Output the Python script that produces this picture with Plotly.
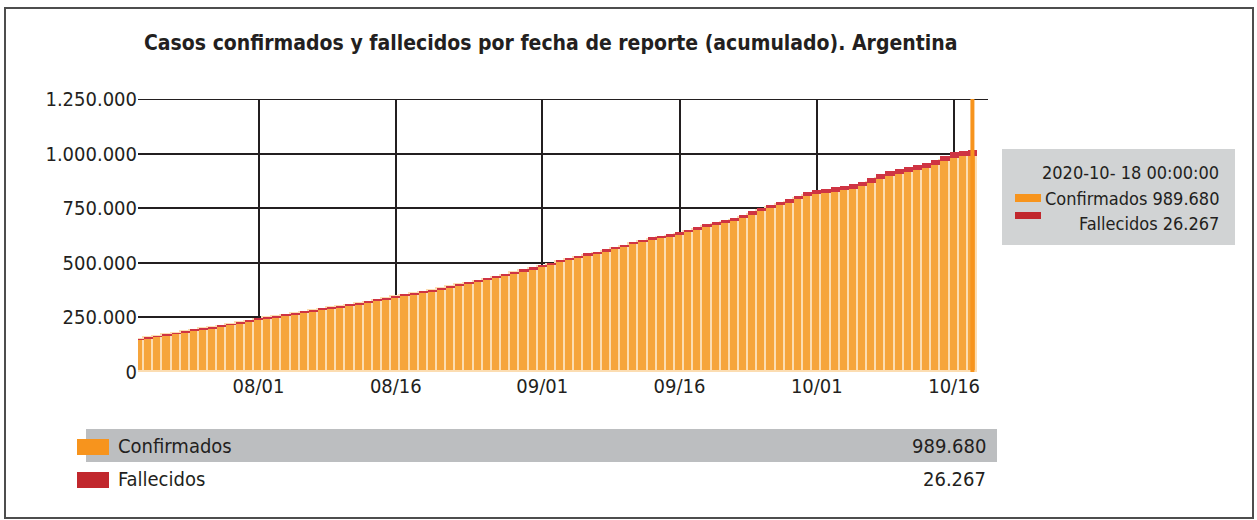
import pandas as pd
import plotly.graph_objects as go

# ---------------- data ----------------
dates = pd.date_range("2020-07-19", "2020-10-18", freq="D")

confirmados = [
    148700, 155100, 161500, 168400, 175800, 182700, 189600, 195600, 200900, 207800, 215200, 222600, 231000,
    239400, 245900, 251200, 257500, 264400, 271300, 278600, 285500, 291400, 296700, 303600, 310500, 317800,
    325600, 334000, 342400, 349300, 355000, 362700, 370500, 379300, 388200, 397000, 403800, 412600, 421400,
    431200, 441000, 451700, 461600, 470500,
    481300, 491100, 501900, 512600, 523400, 533300, 541100, 550900, 561600, 572300, 584100, 594900, 604700,
    612600, 620300, 629200, 639900, 651600, 663300, 673200, 682000, 692500, 706100, 720600, 735200, 748800,
    762500, 773900, 791500, 805100,
    813700, 819400, 825000, 831500, 838200, 849800, 864300, 882800, 896400, 906100, 913800, 923400, 934100,
    945700, 964300, 982100, 987900, 989680,
]

fallecidos = [
    2260, 2373, 2490, 2588, 2702, 2807, 2893, 2939, 3059, 3179, 3288, 3407, 3543,
    3596, 3648, 3813, 3979, 4106, 4251, 4411, 4523, 4606, 4764, 4873, 5004, 5213, 5362, 5527, 5637, 5703,
    6048, 6330, 6517, 6730, 6848, 7054, 7173, 7366, 7563, 7839, 8050, 8271, 8353, 8457,
    8660, 8919, 9118, 9361, 9623, 9739, 9859, 10129, 10405, 10658, 10907, 11148, 11263, 11412, 11667, 11852,
    12116, 12449, 12656, 12799, 13052, 13482, 13952, 14376, 14766, 15208, 15543, 16113, 16519, 16937,
    20288, 20599, 21018, 21468, 21827, 22226, 22710, 23225, 23581, 23868, 24186, 24572, 24921, 25342, 25723,
    25900, 26107, 26267,
]

x_tick_dates = ["2020-08-01", "2020-08-16", "2020-09-01", "2020-09-16", "2020-10-01", "2020-10-16"]
x_tick_labels = ["08/01", "08/16", "09/01", "09/16", "10/01", "10/16"]
y_tick_vals = [0, 250000, 500000, 750000, 1000000, 1250000]

title_text = "Casos confirmados y fallecidos por fecha de reporte (acumulado). Argentina"
series_names = ["Confirmados", "Fallecidos"]

# ---------------- styling ----------------
FONT = "DejaVu Sans Condensed, Liberation Sans Narrow, Arial Narrow, sans-serif"
TXT = "#231F20"
ORANGE = "#F7941D"
BAR_ORANGE = "#F6A53C"
RED = "#C1272D"
BAR_RED = "#CF3443"


def fmt(v):
    return f"{v:,}".replace(",", ".")


W, H = 1257, 520
L, R, T, B = 138, 280, 99, 148
PW, PH = W - L - R, H - T - B


def px(x):
    return (x - L) / PW


def py(y):
    return (T + PH - y) / PH


fig = go.Figure()
fig.add_trace(go.Bar(
    x=dates, y=confirmados, name=series_names[0],
    marker=dict(color=BAR_ORANGE, line=dict(color="#FCDDB2", width=1.6)),
))
fig.add_trace(go.Bar(
    x=dates, y=fallecidos, name=series_names[1],
    marker=dict(color=BAR_RED, line=dict(width=0)),
))

shapes = [
    # top gridline, extending slightly past the plot area
    dict(type="line", xref="paper", yref="y", x0=0, x1=px(988), y0=y_tick_vals[-1], y1=y_tick_vals[-1],
         line=dict(color=TXT, width=2), layer="below"),
    # hover spike on last date
    dict(type="line", xref="x", yref="y", x0=dates[-1], x1=dates[-1], y0=0, y1=y_tick_vals[-1],
         line=dict(color=ORANGE, width=4), layer="above"),
    # outer frame
    dict(type="rect", xref="paper", yref="paper", x0=px(5), x1=px(1253), y0=py(518), y1=py(8),
         line=dict(color="#4D4D4D", width=2), fillcolor="rgba(0,0,0,0)"),
    # bottom legend band
    dict(type="rect", xref="paper", yref="paper", x0=px(86), x1=px(997), y0=py(462), y1=py(429),
         line=dict(width=0), fillcolor="#BCBEC0", layer="below"),
    dict(type="rect", xref="paper", yref="paper", x0=px(77), x1=px(109), y0=py(455), y1=py(439),
         line=dict(width=0), fillcolor=ORANGE),
    dict(type="rect", xref="paper", yref="paper", x0=px(77), x1=px(109), y0=py(488), y1=py(472),
         line=dict(width=0), fillcolor=RED),
    # hover box
    dict(type="rect", xref="paper", yref="paper", x0=px(1002), x1=px(1235), y0=py(245), y1=py(149),
         line=dict(width=0), fillcolor="#D1D3D4"),
    dict(type="rect", xref="paper", yref="paper", x0=px(1015), x1=px(1041), y0=py(202), y1=py(194),
         line=dict(width=0), fillcolor=ORANGE),
    dict(type="rect", xref="paper", yref="paper", x0=px(1015), x1=px(1041), y0=py(219), y1=py(212),
         line=dict(width=0), fillcolor=RED),
]

last_date = dates[-1]
hover_date = f"{last_date:%Y-%m-} {last_date:%d %H:%M:%S}"

annotations = [
    dict(text=f"<b>{title_text}</b>", x=px(550), y=py(43), xanchor="center", yanchor="middle",
         font=dict(size=21, color=TXT)),
    dict(text=series_names[0], x=px(116), y=py(446), xanchor="left", yanchor="middle",
         font=dict(size=20, color=TXT)),
    dict(text=fmt(confirmados[-1]), x=px(988), y=py(446), xanchor="right", yanchor="middle",
         font=dict(size=20, color=TXT)),
    dict(text=series_names[1], x=px(116), y=py(479), xanchor="left", yanchor="middle",
         font=dict(size=20, color=TXT)),
    dict(text=fmt(fallecidos[-1]), x=px(988), y=py(479), xanchor="right", yanchor="middle",
         font=dict(size=20, color=TXT)),
    dict(text=hover_date, x=px(1221), y=py(172), xanchor="right", yanchor="middle",
         font=dict(size=18, color=TXT)),
    dict(text=f"{series_names[0]} {fmt(confirmados[-1])}", x=px(1221), y=py(198), xanchor="right",
         yanchor="middle", font=dict(size=18, color=TXT)),
    dict(text=f"{series_names[1]} {fmt(fallecidos[-1])}", x=px(1221), y=py(223), xanchor="right",
         yanchor="middle", font=dict(size=18, color=TXT)),
]
for a in annotations:
    a.update(xref="paper", yref="paper", showarrow=False)

fig.update_layout(
    width=W, height=H,
    margin=dict(l=L, r=R, t=T, b=B, pad=0),
    paper_bgcolor="white", plot_bgcolor="white",
    barmode="stack", bargap=0.0,
    showlegend=False, hovermode=False,
    font=dict(family=FONT, color=TXT),
    shapes=shapes, annotations=annotations,
    xaxis=dict(
        range=["2020-07-18 20:00", "2020-10-18 12:00"],
        tickvals=x_tick_dates, ticktext=x_tick_labels,
        showgrid=True, gridcolor=TXT, gridwidth=2,
        showline=False, zeroline=False, ticks="",
        tickfont=dict(size=20, color=TXT),
    ),
    yaxis=dict(
        range=[0, y_tick_vals[-1]],
        tickvals=y_tick_vals, ticktext=[fmt(v) for v in y_tick_vals],
        showgrid=True, gridcolor=TXT, gridwidth=2,
        showline=False, zeroline=False, ticks="",
        tickfont=dict(size=20, color=TXT),
    ),
)

fig.write_html("out.html", config={"displayModeBar": False},
               post_script="document.body.style.margin='0';")
